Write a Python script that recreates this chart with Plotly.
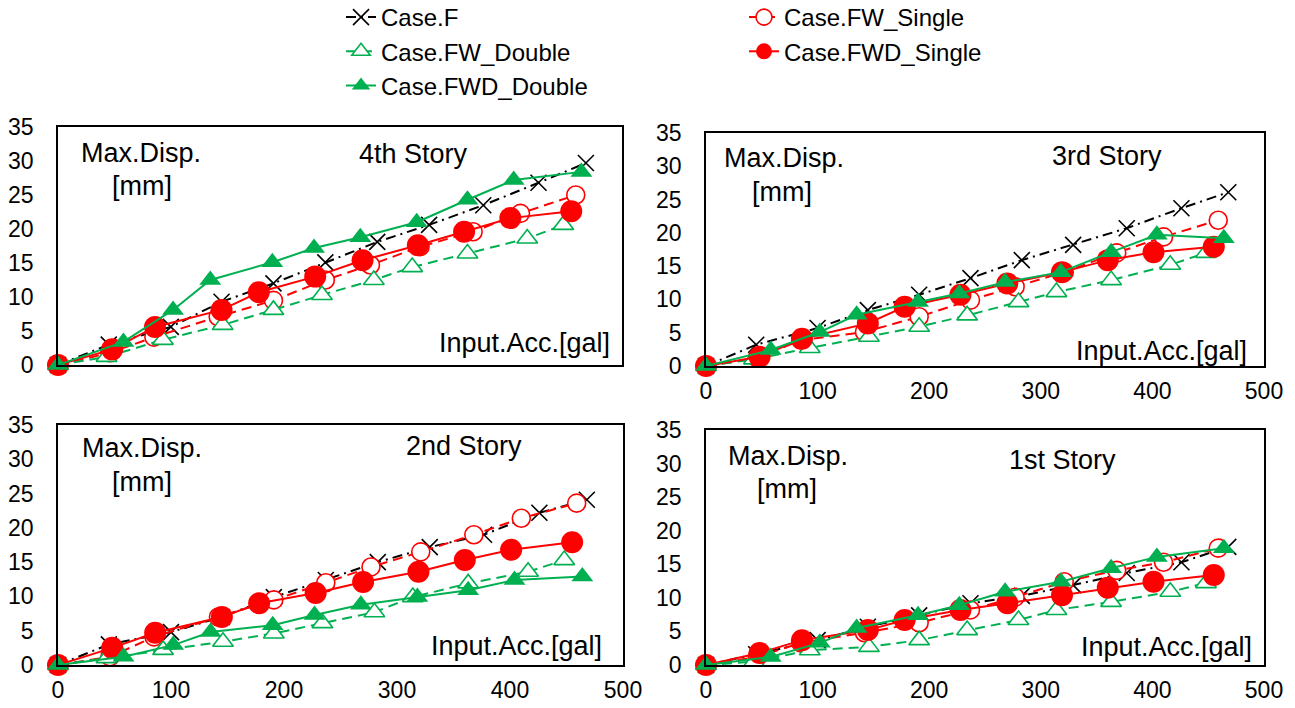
import plotly.graph_objects as go

# ---- data ----
case_names = ["Case.F", "Case.FW_Single", "Case.FW_Double", "Case.FWD_Single", "Case.FWD_Double"]

x_F    = [0, 45, 100, 145, 191, 237, 283, 329, 377, 426, 468]
x_FWS  = [0, 46, 85, 142, 191, 237, 277, 321, 368, 410, 459]
x_FWDb = [0, 43, 93, 146, 191, 234, 280, 314, 363, 416, 448]
x_FWDS = [0, 48, 86, 145, 178, 228, 270, 319, 360, 401, 455]
x_FWDD = [0, 58, 102, 135, 190, 227, 268, 318, 363, 404, 464]

# 4th story
s4_F    = [0, 3.0, 5.6, 9.3, 12.0, 15.1, 18.1, 20.6, 23.5, 26.8, 29.7]
s4_FWS  = [0, 1.8, 4.1, 7.1, 9.5, 12.5, 14.7, 17.4, 19.6, 22.3, 25.0]
s4_FWDb = [0, 1.2, 3.7, 5.9, 8.1, 10.3, 12.5, 14.4, 16.4, 18.6, 20.6]
s4_FWDS = [0, 2.3, 5.6, 8.1, 10.7, 13.0, 15.4, 17.6, 19.6, 21.6, 22.6]
s4_FWDD = [0, 3.4, 8.1, 12.5, 15.1, 17.2, 18.8, 21.0, 24.3, 27.2, 28.4]

# 3rd story
s3_F    = [0, 3.2, 5.7, 8.4, 10.7, 13.2, 15.9, 18.2, 20.7, 23.7, 26.1]
s3_FWS  = [0, 1.2, 3.9, 5.1, 7.4, 9.9, 11.9, 14.1, 17.0, 19.4, 21.9]
s3_FWDb = [0, 1.0, 2.7, 4.4, 5.9, 7.6, 9.6, 11.1, 12.9, 15.2, 17.0]
s3_FWDS = [0, 1.4, 4.1, 6.4, 8.9, 10.7, 12.4, 14.1, 15.9, 17.1, 17.9]
s3_FWDD = [0, 2.4, 5.1, 7.7, 9.6, 10.9, 12.6, 14.1, 17.1, 19.7, 19.2]

# 2nd story
s2_F    = [0, 3.0, 4.8, 7.0, 9.9, 12.4, 15.0, 17.2, 19.0, 22.2, 24.1]
s2_FWS  = [0, 1.2, 4.1, 7.0, 9.5, 12.0, 14.3, 16.5, 19.0, 21.4, 23.6]
s2_FWDb = [0, 1.0, 2.2, 3.4, 4.6, 6.1, 7.7, 9.9, 11.9, 13.6, 15.3]
s2_FWDS = [0, 2.5, 4.7, 7.0, 9.0, 10.5, 12.1, 13.6, 15.3, 16.8, 17.9]
s2_FWDD = [0, 1.2, 2.9, 4.8, 5.8, 7.3, 8.8, 9.9, 10.9, 12.4, 12.9]

# 1st story
s1_F    = [0, 1.6, 3.7, 5.7, 7.4, 9.2, 10.3, 11.9, 13.7, 15.3, 17.6]
s1_FWS  = [0, 1.2, 3.3, 4.8, 6.3, 8.2, 10.1, 12.4, 14.1, 15.3, 17.4]
s1_FWDb = [0, 0.5, 2.2, 2.7, 3.7, 5.2, 6.7, 8.2, 9.4, 10.9, 12.2]
s1_FWDS = [0, 1.8, 3.7, 5.2, 6.7, 8.2, 9.2, 10.4, 11.5, 12.4, 13.4]
s1_FWDD = [0, 1.2, 3.3, 5.5, 7.4, 8.9, 10.9, 12.4, 14.4, 16.1, 17.4]

story_titles = ["4th Story", "3rd Story", "2nd Story", "1st Story"]
x_ticks = [0, 100, 200, 300, 400, 500]
y_ticks = [0, 5, 10, 15, 20, 25, 30, 35]

stories = [
    [s4_F, s4_FWS, s4_FWDb, s4_FWDS, s4_FWDD],
    [s3_F, s3_FWS, s3_FWDb, s3_FWDS, s3_FWDD],
    [s2_F, s2_FWS, s2_FWDb, s2_FWDS, s2_FWDD],
    [s1_F, s1_FWS, s1_FWDb, s1_FWDS, s1_FWDD],
]
xs = [x_F, x_FWS, x_FWDb, x_FWDS, x_FWDD]

# ---- styles ----
RED = "#FF0000"
GREEN = "#00B050"
styles = [
    dict(line=dict(color="black", width=2, dash="10px,5px,2px,5px"),
         marker=dict(symbol="x-thin-open", size=16, color="black", line=dict(color="black", width=1.6))),
    dict(line=dict(color=RED, width=2, dash="10px,6px"),
         marker=dict(symbol="circle", size=18, color="white", line=dict(color=RED, width=1.6))),
    dict(line=dict(color=GREEN, width=2, dash="10px,6px"),
         marker=dict(symbol="triangle-up", size=18, color="white", line=dict(color=GREEN, width=1.6))),
    dict(line=dict(color=RED, width=2),
         marker=dict(symbol="circle", size=22, color=RED, line=dict(width=0))),
    dict(line=dict(color=GREEN, width=2),
         marker=dict(symbol="triangle-up", size=19, color=GREEN, line=dict(width=0))),
]
legend_of = ["legend", "legend2", "legend", "legend2", "legend"]

W, H = 1295, 708
FONT = "Liberation Sans, Arial, sans-serif"

# panel frames in pixels: (left, right, top, bottom)
frames = [(58, 622, 127, 365), (706, 1264, 133, 366), (58, 623, 425, 665), (706, 1264, 430, 665)]

fig = go.Figure()
for p, series in enumerate(stories):
    ax = "" if p == 0 else str(p + 1)
    for k in range(5):
        fig.add_trace(go.Scatter(
            x=xs[k], y=series[k], name=case_names[k], mode="lines+markers",
            xaxis="x" + ax, yaxis="y" + ax, cliponaxis=False,
            showlegend=(p == 0), legend=legend_of[k], **styles[k]))

axis_common = dict(showline=True, linecolor="black", linewidth=1.5, mirror=True,
                   showgrid=False, zeroline=False, ticks="", automargin=False,
                   tickfont=dict(family=FONT, size=23, color="black"))
layout = {}
for p, (l, r, t, b) in enumerate(frames):
    ax = "" if p == 0 else str(p + 1)
    layout["xaxis" + ax] = dict(axis_common, domain=[l / W, r / W], range=[0, 500],
                                tickvals=x_ticks, anchor="y" + ax,
                                showticklabels=(p != 0), ticklabelstandoff=4)
    layout["yaxis" + ax] = dict(axis_common, domain=[1 - b / H, 1 - t / H], range=[0, 35],
                                tickvals=y_ticks, anchor="x" + ax, ticklabelstandoff=18)

ann = []
def add_text(txt, px, py, xanchor="center", size=27):
    ann.append(dict(text=txt, x=px / W, y=1 - py / H, xref="paper", yref="paper",
                    xanchor=xanchor, yanchor="middle", showarrow=False,
                    font=dict(family=FONT, size=size, color="black")))

text_pos = [
    dict(md=(141, 153), mm=(142, 186), st=(413, 154), acc=(612, 343)),
    dict(md=(784, 158), mm=(782, 192), st=(1107, 156), acc=(1249, 351)),
    dict(md=(142, 448), mm=(142, 482), st=(464, 446), acc=(604, 646)),
    dict(md=(788, 456), mm=(787, 489), st=(1062, 460), acc=(1254, 647)),
]
for p, tp in enumerate(text_pos):
    add_text("Max.Disp.", *tp["md"])
    add_text("[mm]", *tp["mm"])
    add_text(story_titles[p], *tp["st"])
    add_text("Input.Acc.[gal]", *tp["acc"], xanchor="right")

legend_common = dict(orientation="v", xref="paper", yref="paper",
                     yanchor="top", xanchor="left", bgcolor="rgba(0,0,0,0)",
                     font=dict(family=FONT, size=24, color="black"), tracegroupgap=0)

fig.update_layout(
    width=W, height=H, margin=dict(l=0, r=0, t=0, b=0, autoexpand=False),
    paper_bgcolor="white", plot_bgcolor="white",
    annotations=ann,
    legend=dict(legend_common, x=341 / W, y=1 + 5 / H),
    legend2=dict(legend_common, x=744 / W, y=1 + 5 / H),
    **layout,
)

fig.write_html("out.html", config={"displayModeBar": False},
               post_script="document.body.style.margin='0';document.body.style.overflow='hidden';")
